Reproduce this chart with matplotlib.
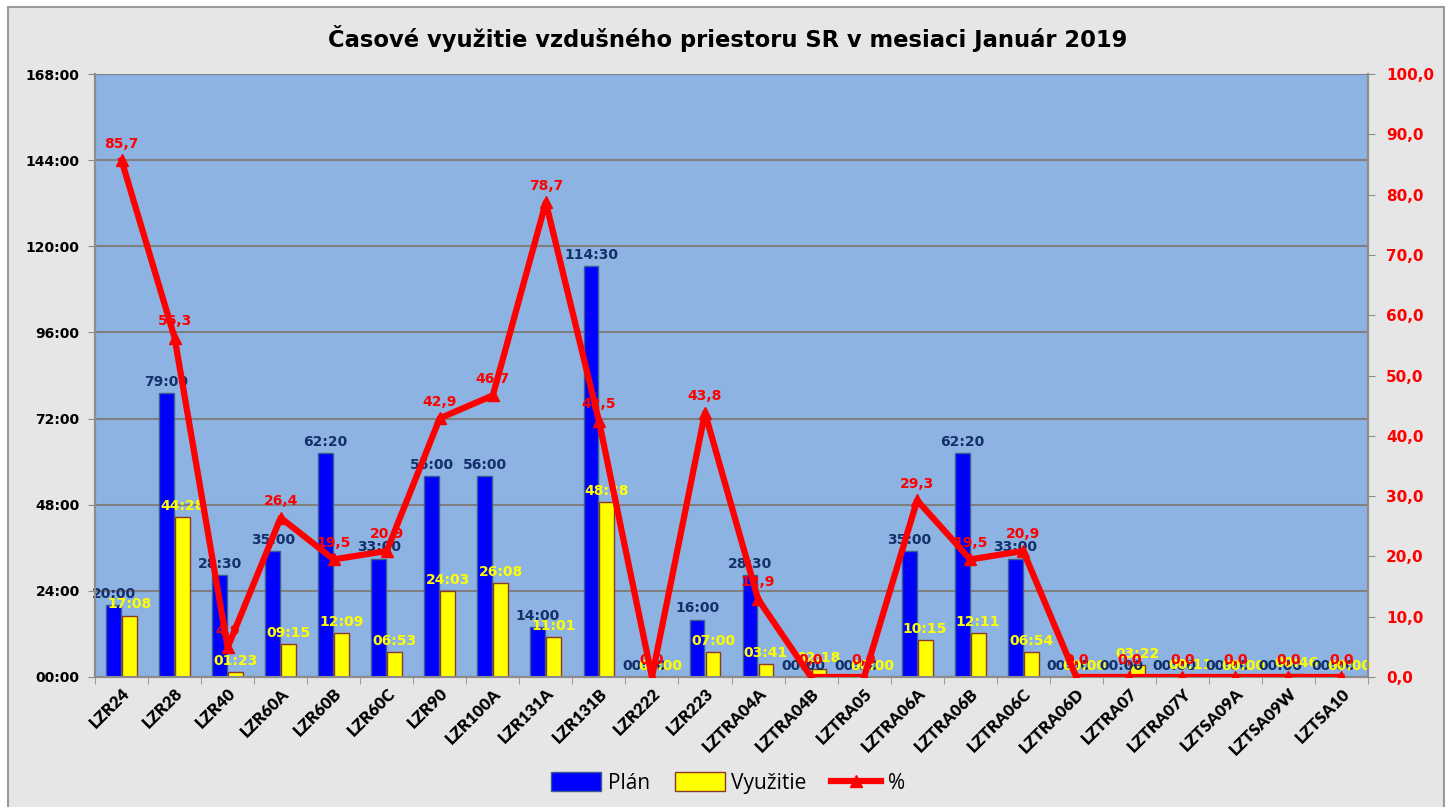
import numpy as np
import matplotlib.pyplot as plt
from matplotlib.patches import Rectangle, Patch
from matplotlib.lines import Line2D
from matplotlib.ticker import FuncFormatter, MultipleLocator

# Zóny vzdušného priestoru
kategorie = ['LZR24', 'LZR28', 'LZR40', 'LZR60A', 'LZR60B', 'LZR60C', 'LZR90', 'LZR100A',
             'LZR131A', 'LZR131B', 'LZR222', 'LZR223', 'LZTRA04A', 'LZTRA04B', 'LZTRA05',
             'LZTRA06A', 'LZTRA06B', 'LZTRA06C', 'LZTRA06D', 'LZTRA07', 'LZTRA07Y',
             'LZTSA09A', 'LZTSA09W', 'LZTSA10']

# Plán a využitie v tvare "HH:MM"
plan = ['20:00', '79:00', '28:30', '35:00', '62:20', '33:00', '56:00', '56:00',
        '14:00', '114:30', '00:00', '16:00', '28:30', '00:00', '00:00',
        '35:00', '62:20', '33:00', '00:00', '00:00', '00:00',
        '00:00', '00:00', '00:00']
vyuzitie = ['17:08', '44:28', '01:23', '09:15', '12:09', '06:53', '24:03', '26:08',
            '11:01', '48:38', '00:00', '07:00', '03:41', '02:18', '00:00',
            '10:15', '12:11', '06:54', '00:00', '03:22', '00:11',
            '00:00', '00:46', '00:00']
percento = [85.7, 56.3, 4.9, 26.4, 19.5, 20.9, 42.9, 46.7, 78.7, 42.5, 0.0, 43.8,
            12.9, 0.0, 0.0, 29.3, 19.5, 20.9, 0.0, 0.0, 0.0, 0.0, 0.0, 0.0]


def na_hodiny(s):
    h, m = s.split(':')
    return int(h) + int(m) / 60


plan_h = np.array([na_hodiny(s) for s in plan])
vyuz_h = np.array([na_hodiny(s) for s in vyuzitie])
x = np.arange(len(kategorie))

fig = plt.figure(figsize=(14.56, 8.07), dpi=100)
fig.patch.set_facecolor('white')
# rámik oblasti grafu
fig.patches.append(Rectangle((8 / 1456, -0.01), 1436 / 1456, 1 - 7 / 807 + 0.01,
                             transform=fig.transFigure, facecolor='#e6e6e6',
                             edgecolor='#9a9a9a', linewidth=1.5, zorder=-10))

ax = fig.add_axes([95 / 1456, 1 - 677 / 807, (1368 - 95) / 1456, (677 - 74) / 807])
ax.set_facecolor('#8db3e2')

w = 0.28
ax.bar(x - 0.15, plan_h, w, color='#0000ff', edgecolor='#3a5f8f', linewidth=1, zorder=3)
ax.bar(x + 0.15, vyuz_h, w, color='#ffff00', edgecolor='#8b3a2a', linewidth=1, zorder=3)

for i in range(len(x)):
    ax.annotate(plan[i], (x[i] - 0.15, plan_h[i]), xytext=(0, 3), textcoords='offset points',
                ha='center', va='bottom', fontsize=10, fontweight='bold', color='#14306b', zorder=5)
    ax.annotate(vyuzitie[i], (x[i] + 0.15, vyuz_h[i]), xytext=(0, 3), textcoords='offset points',
                ha='center', va='bottom', fontsize=10, fontweight='bold', color='#ffff00', zorder=5)

ax.set_xlim(-0.5, len(x) - 0.5)
ax.set_ylim(0, 168)
ax.yaxis.set_major_locator(MultipleLocator(24))
ax.yaxis.set_major_formatter(FuncFormatter(lambda v, p: f'{int(v):02d}:00'))
ax.grid(axis='y', color='#808080', linewidth=1.5, zorder=1)
ax.set_axisbelow(True)
ax.set_xticks(x)
ax.set_xticklabels(kategorie, rotation=45, ha='right', rotation_mode='anchor',
                   fontsize=12, fontweight='heavy', family='Lato')
ax.tick_params(axis='x', length=0, pad=6)
ax.set_xticks(np.arange(-0.5, len(x), 1), minor=True)
ax.tick_params(axis='x', which='minor', length=5, color='#8c8c8c')
ax.tick_params(axis='y', length=5, color='#8c8c8c', labelsize=10, pad=6)
for lab in ax.get_yticklabels():
    lab.set_fontweight('bold')
for s in ['left', 'bottom', 'right']:
    ax.spines[s].set_color('#8c8c8c')
    ax.spines[s].set_linewidth(1.5)
ax.spines['top'].set_visible(False)

ax2 = ax.twinx()
ax2.plot(x, percento, color='#ff0000', linewidth=4.5, marker='^', markersize=8, zorder=4)
for i in range(len(x)):
    ax2.annotate(f'{percento[i]:.1f}'.replace('.', ','), (x[i], percento[i]), xytext=(0, 7),
                 textcoords='offset points', ha='center', va='bottom', fontsize=10,
                 fontweight='bold', color='#ff0000', zorder=6)
ax2.set_ylim(0, 100)
ax2.yaxis.set_major_locator(MultipleLocator(10))
ax2.yaxis.set_major_formatter(FuncFormatter(lambda v, p: f'{v:.1f}'.replace('.', ',')))
ax2.tick_params(axis='y', length=5, color='#8c8c8c', labelsize=11, labelcolor='#ff0000', pad=8)
for lab in ax2.get_yticklabels():
    lab.set_fontweight('bold')
for s in ['left', 'bottom', 'right']:
    ax2.spines[s].set_color('#8c8c8c')
    ax2.spines[s].set_linewidth(1.5)
ax2.spines['top'].set_visible(False)

fig.text(0.5, 1 - 38 / 807, 'Časové využitie vzdušného priestoru SR v mesiaci Január 2019',
         ha='center', va='center', fontsize=16.3, fontweight='bold')

handles = [Patch(facecolor='#0000ff', edgecolor='#3a5f8f'),
           Patch(facecolor='#ffff00', edgecolor='#8b3a2a'),
           Line2D([], [], color='#ff0000', linewidth=4.5, marker='^', markersize=8)]
fig.legend(handles, ['Plán', 'Využitie', '%'], loc='center', bbox_to_anchor=(0.5, 1 - 783 / 807),
           ncol=3, frameon=False, prop={'family': 'Open Sans', 'size': 15},
           handlelength=2.4, handleheight=1.0, handletextpad=0.3, columnspacing=1.2)

fig.savefig('out.png', dpi=100)
